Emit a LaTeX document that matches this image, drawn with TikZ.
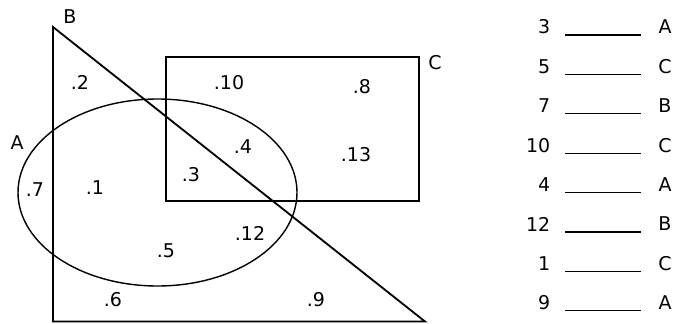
\documentclass[tikz,border=0pt]{standalone}
\usepackage{fontspec}
\setmainfont{DejaVu Sans}
\usetikzlibrary{positioning}

\begin{document}
\begin{tikzpicture}[x=0.025cm,y=-0.025cm,
    every node/.style={font=\fontsize{13.5}{15}\selectfont,inner sep=1pt},
    setline/.style={line width=1.3pt},
    blank/.style={line width=0.9pt}]
    \useasboundingbox (0,0) rectangle (677,323);
    % set B: the triangle
    \draw[setline,line join=miter] (53,27) coordinate (Btop)
        -- (53,321.5) coordinate (Bleft)
        -- (425,321.5) coordinate (Bright) -- cycle;
    \node (labB) at (70,17) {B};
    % set C: the rectangle
    \draw[setline] (166,57) coordinate (Ctl) rectangle (419,201) coordinate (Cbr);
    \node (labC) at (435,63) {C};
    % set A: the ellipse
    \draw[line width=1pt] (157.5,192.5) ellipse [x radius=139.5, y radius=93.5];
    \node (labA) at (17,143) {A};
    % region numbers
    \foreach \t/\px/\py in {2/80/82, 10/229/83, 8/362/87, 4/243/147,
        13/356/155, 3/191/175, 7/35/190, 1/95/188, 12/250/233,
        5/166/251, 6/113/300, 9/316/300}
        \node (reg\t) at (\px,\py) {.\t};
    % answer list
    \foreach \n/\l [count=\i] in {3/A, 5/C, 7/B, 10/C, 4/A, 12/B, 1/C, 9/A} {
        \node[anchor=east] (num\i) at (552,{27+39.4*(\i-1)}) {\n};
        \node (let\i) at (665,{27+39.4*(\i-1)}) {\l};
        \draw[blank] (565,{35+39.4*(\i-1)}) -- (641,{35+39.4*(\i-1)});
    }
\end{tikzpicture}
\end{document}
